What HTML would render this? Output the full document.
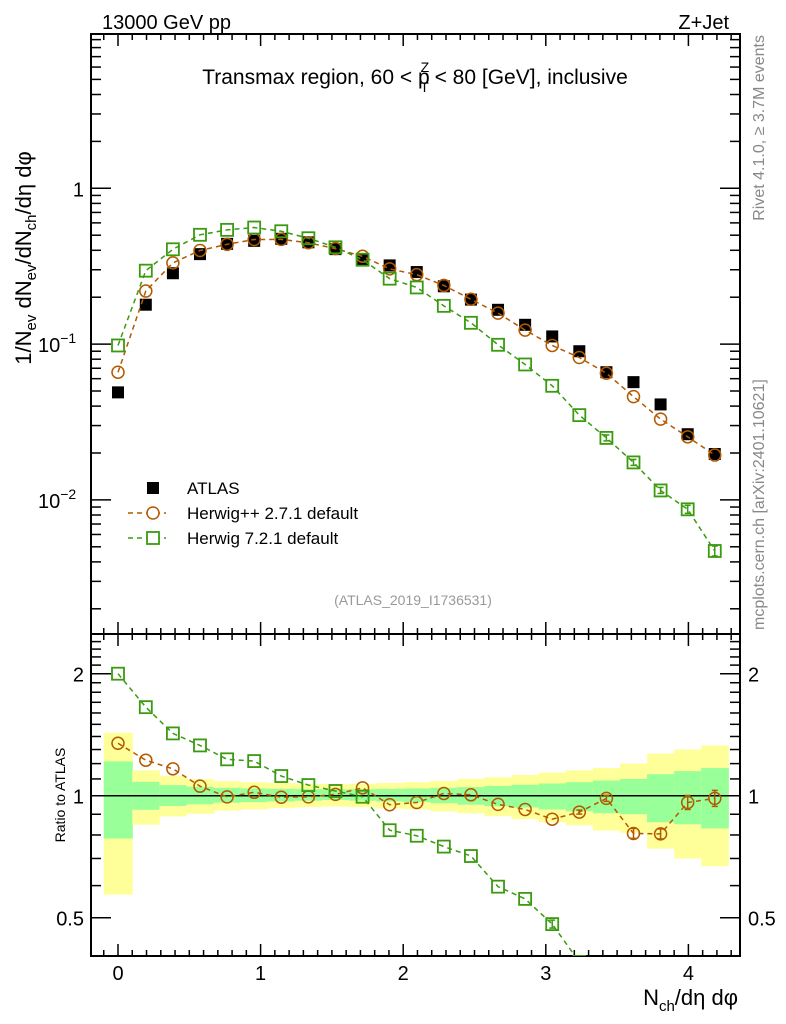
<!DOCTYPE html>
<html><head><meta charset="utf-8"><style>
html,body{margin:0;padding:0;background:#fff;}
svg{display:block;font-family:"Liberation Sans",sans-serif;}
</style></head><body>
<svg id="chart" width="786" height="1024" viewBox="0 0 786 1024" xmlns="http://www.w3.org/2000/svg">
<text x="102" y="29" font-size="20">13000 GeV pp</text>
<text x="729" y="29" font-size="20" text-anchor="end">Z+Jet</text>
<text x="415" y="84" font-size="21" text-anchor="middle">Transmax region, 60 &lt; p<tspan font-size="14" dy="-12" dx="-9">Z</tspan><tspan font-size="14" dy="20" dx="-9">T</tspan><tspan dy="-8"> &lt; 80 [GeV], inclusive</tspan></text>
<text transform="translate(31,258) rotate(-90)" font-size="22" text-anchor="middle">1/N<tspan font-size="15" dy="5">ev</tspan><tspan dy="-5"> dN</tspan><tspan font-size="15" dy="5">ev</tspan><tspan dy="-5">/dN</tspan><tspan font-size="15" dy="5">ch</tspan><tspan dy="-5">/dη dφ</tspan></text>
<text transform="translate(764,35) rotate(-90)" font-size="16" fill="#888" text-anchor="end">Rivet 4.1.0, ≥ 3.7M events</text>
<text transform="translate(764,630) rotate(-90)" font-size="16" fill="#888">mcplots.cern.ch [arXiv:2401.10621]</text>
<text x="413" y="605" font-size="14" fill="#999" text-anchor="middle">(ATLAS_2019_I1736531)</text>
<text transform="translate(65,795) rotate(-90)" font-size="14" text-anchor="middle">Ratio to ATLAS</text>
<text x="738" y="1005" font-size="22" text-anchor="end">N<tspan font-size="15" dy="6">ch</tspan><tspan dy="-6">/dη dφ</tspan></text>
<g id="g"></g>
</svg>
<script>
const atlas = [0.049,0.179,0.285,0.378,0.44,0.46,0.474,0.45,0.407,0.35,0.32,0.29,0.235,0.193,0.166,0.133,0.112,0.09,0.066,0.057,0.041,0.0264,0.0197];
const herwigpp = [0.066,0.219,0.332,0.399,0.437,0.469,0.470,0.447,0.410,0.366,0.304,0.279,0.238,0.194,0.158,0.123,0.098,0.082,0.065,0.046,0.033,0.0254,0.0194];
const herwig7 = [0.098,0.296,0.406,0.503,0.541,0.560,0.530,0.478,0.418,0.348,0.263,0.231,0.176,0.137,0.099,0.074,0.054,0.035,0.025,0.0174,0.0115,0.0087,0.0047];
const binEdges = [-0.1,0.1,0.29,0.48,0.67,0.86,1.05,1.24,1.43,1.62,1.81,2.0,2.19,2.38,2.57,2.76,2.95,3.14,3.33,3.52,3.71,3.90,4.09,4.28];
const xCenters = [0,0.195,0.385,0.575,0.765,0.955,1.145,1.335,1.525,1.715,1.905,2.095,2.285,2.475,2.665,2.855,3.045,3.235,3.425,3.615,3.805,3.995,4.185];
const totUp = [1.43,1.155,1.119,1.098,1.086,1.08,1.075,1.07,1.068,1.07,1.075,1.08,1.088,1.1,1.11,1.125,1.14,1.155,1.17,1.2,1.27,1.30,1.33];
const totDn = [0.57,0.848,0.889,0.902,0.919,0.925,0.932,0.937,0.94,0.937,0.93,0.925,0.915,0.905,0.89,0.875,0.86,0.845,0.82,0.81,0.74,0.70,0.67];
const statUp = [1.215,1.082,1.062,1.052,1.046,1.042,1.04,1.038,1.036,1.038,1.04,1.042,1.046,1.05,1.057,1.064,1.072,1.08,1.09,1.1,1.13,1.15,1.17];
const statDn = [0.784,0.923,0.943,0.952,0.961,0.964,0.968,0.972,0.976,0.972,0.968,0.964,0.958,0.95,0.942,0.935,0.925,0.915,0.905,0.9,0.86,0.85,0.83];
const xTicks = [0,1,2,3,4];
const ratioTicks = [0.5,1,2];

const NS="http://www.w3.org/2000/svg";
const G=document.getElementById('g');
const L=91,R=740,MT=34,MB=634,RT=634,RB=956;
const X=v=>118+v*142.6;
const Y=v=>188.3-155.8*Math.log10(v);
const YR=v=>795.7-122*Math.log2(v);
function mk(t,a,p){const e=document.createElementNS(NS,t);for(const k in a)e.setAttribute(k,a[k]);(p||G).appendChild(e);return e;}
const cRect=mk('clipPath',{id:'cr'});mk('rect',{x:L,y:RT,width:R-L,height:RB-RT},cRect);
const cMain=mk('clipPath',{id:'cm'});mk('rect',{x:L,y:MT,width:R-L,height:MB-MT},cMain);

const bands=mk('g',{'clip-path':'url(#cr)'});


for(let i=0;i<atlas.length;i++){
  const x0=X(binEdges[i]),x1=X(binEdges[i+1]);
  const y=mk('rect',{x:x0,y:YR(totUp[i]),width:x1-x0+0.5,height:YR(totDn[i])-YR(totUp[i]),fill:'#ffff99'},bands);
  
  
  const g2=mk('rect',{x:x0,y:YR(statUp[i]),width:x1-x0+0.5,height:YR(statDn[i])-YR(statUp[i]),fill:'#99ff99'},bands);
  
  
}
const one=mk('line',{x1:L,x2:R,y1:YR(1),y2:YR(1),stroke:'#000','stroke-width':1.5});



for(const [t,b,n] of [[MT,MB,'main-frame'],[RT,RB,'ratio-frame']]){
  const f=mk('rect',{x:L,y:t,width:R-L,height:b-t,fill:'none',stroke:'#000','stroke-width':2});
  
  
}
for(const [t,b] of [[MT,MB],[RT,RB]]){
  for(let v=-0.1;v<=4.35;v+=0.1){
    const vv=Math.round(v*10)/10; const maj=Math.abs(vv-Math.round(vv))<1e-6;
    const x=X(vv); if(x<L||x>R)continue;
    const len=maj?12:6;
    mk('line',{x1:x,x2:x,y1:b,y2:b-len,stroke:'#000','stroke-width':1.5});
    mk('line',{x1:x,x2:x,y1:t,y2:t+len,stroke:'#000','stroke-width':1.5});
  }
}
xTicks.forEach(v=>{const t=mk('text',{x:X(v),y:980,'font-size':20,'text-anchor':'middle'});t.textContent=v;

});
for(let d=-3;d<=1;d++)for(let m=1;m<10;m++){
  const v=m*Math.pow(10,d);const y=Y(v);if(y<MT||y>MB)continue;
  const len=m==1?20:10;
  mk('line',{x1:L,x2:L+len,y1:y,y2:y,stroke:'#000','stroke-width':1.5});
  mk('line',{x1:R,x2:R-len,y1:y,y2:y,stroke:'#000','stroke-width':1.5});
}
[[1,'1',null],[0.1,'10','−1'],[0.01,'10','−2']].forEach(([v,b,e])=>{
  const t=mk('text',{x:84,y:Y(v)+8,'font-size':20,'text-anchor':'end'});
  
  
  if(e){t.setAttribute('x',38);t.setAttribute('text-anchor','start');t.innerHTML=b+'<tspan font-size="14" dy="-9">'+e+'</tspan>';}
  else t.textContent=b;
});
for(let v=0.4;v<=2.5;v+=0.1){
  const vv=Math.round(v*10)/10;const y=YR(vv);if(y<RT||y>RB)continue;
  const maj=ratioTicks.includes(vv);const len=maj?20:10;
  mk('line',{x1:L,x2:L+len,y1:y,y2:y,stroke:'#000','stroke-width':1.5});
  mk('line',{x1:R,x2:R-len,y1:y,y2:y,stroke:'#000','stroke-width':1.5});
}
ratioTicks.forEach(v=>{
  const t=mk('text',{x:84,y:YR(v)+8,'font-size':20,'text-anchor':'end'});t.textContent=v;
  
  
  const t2=mk('text',{x:748,y:YR(v)+8,'font-size':20});t2.textContent=v;
  
  
});

function series(vals,yf,color,shape,clip,name,errs){
  const g=mk('g',{'clip-path':clip});
  
  
  const pts=vals.map((v,i)=>[X(xCenters[i]),yf(v,i)]);
  mk('polyline',{points:pts.map(p=>p.join(',')).join(' '),fill:'none',stroke:color,'stroke-width':1.5,'stroke-dasharray':'5,4'},g);
  pts.forEach(([x,y],i)=>{
    if(errs&&errs[i]>0){mk('line',{x1:x,x2:x,y1:y-errs[i],y2:y+errs[i],stroke:color,'stroke-width':1.5},g);
      mk('line',{x1:x-3,x2:x+3,y1:y-errs[i],y2:y-errs[i],stroke:color,'stroke-width':1.5},g);
      mk('line',{x1:x-3,x2:x+3,y1:y+errs[i],y2:y+errs[i],stroke:color,'stroke-width':1.5},g);}
    let m;
    if(shape=='c')m=mk('circle',{cx:x,cy:y,r:6,fill:'none',stroke:color,'stroke-width':1.5},g);
    else m=mk('rect',{x:x-6,y:y-6,width:12,height:12,fill:'none',stroke:color,'stroke-width':1.8},g);
    
    
  });
}
const ag=mk('g',{'clip-path':'url(#cm)'});


atlas.forEach((v,i)=>{const r=mk('rect',{x:X(xCenters[i])-6,y:Y(v)-6,width:12,height:12,fill:'#000'},ag);

});
const errPP=[0,0,0,0,0,0,0,0,0,0,0,0,0,0,0,0,0,2,3,5,5,7,8];
const err7=[0,0,0,0,0,0,0,0,0,0,0,0,0,0,0,0,4,4,5,5,5,6,7];
series(herwigpp,v=>Y(v),'#b35900','c','url(#cm)','herwigpp-main',null);
series(herwig7,v=>Y(v),'#3a9a10','s','url(#cm)','herwig7-main',err7.map(e=>e>4?e-2:0));
series(herwigpp,(v,i)=>YR(v/atlas[i]),'#b35900','c','url(#cr)','herwigpp-ratio',errPP);
series(herwig7,(v,i)=>YR(v/atlas[i]),'#3a9a10','s','url(#cr)','herwig7-ratio',err7);

const lg=mk('g',{});


const la=mk('rect',{x:147,y:482,width:12,height:12,fill:'#000'},lg);


[['ATLAS',488],['Herwig++ 2.7.1 default',513],['Herwig 7.2.1 default',538]].forEach(([s,y],i)=>{
  const t=mk('text',{x:187,y:y+6,'font-size':17},lg);t.textContent=s;
  
  
  if(i>0){const c=i==1?'#b35900':'#3a9a10';
    mk('line',{x1:128,x2:166,y1:y,y2:y,stroke:c,'stroke-width':1.5,'stroke-dasharray':'5,4'},lg);
    if(i==1)mk('circle',{cx:153,cy:y,r:6,fill:'#fff',stroke:c,'stroke-width':1.5},lg);
    else mk('rect',{x:147,y:y-6,width:12,height:12,fill:'#fff',stroke:c,'stroke-width':1.8},lg);}
});
</script>
</body></html>
